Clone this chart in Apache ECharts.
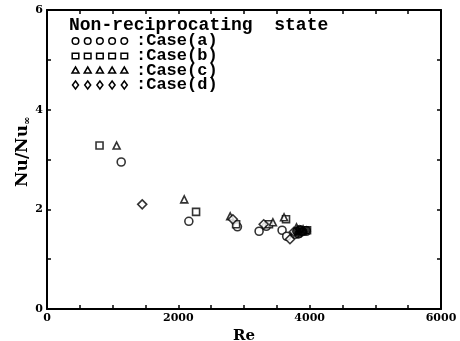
<!DOCTYPE html>
<html>
<head>
<meta charset="utf-8">
<script src="https://cdn.jsdelivr.net/npm/echarts@6/dist/echarts.min.js"></script>
<style>
  html, body { margin: 0; padding: 0; background: #fff; }
  #chart { width: 460px; height: 341px; }
</style>
</head>
<body>
<div id="chart"></div>
<script>
// Re, Nu/Nu_inf
var caseA = [[1130, 2.95], [2160, 1.76], [2900, 1.65], [3230, 1.56], [3340, 1.66], [3580, 1.58], [3650, 1.46], [3780, 1.5], [3950, 1.56]];
var caseB = [[800, 3.28], [2270, 1.95], [2880, 1.7], [3380, 1.7], [3640, 1.8], [3860, 1.58], [3960, 1.58]];
var caseC = [[1060, 3.28], [2090, 2.2], [2790, 1.86], [3440, 1.74], [3610, 1.84], [3800, 1.64], [3900, 1.6]];
var caseD = [[1450, 2.1], [2830, 1.8], [3300, 1.7], [3700, 1.4], [3760, 1.55], [3880, 1.55]];
// overlapping marks that print as a solid blob
var blob = [[3800, 1.56], [3850, 1.6], [3900, 1.55], [3950, 1.58], [3830, 1.5]];

var xTicks = [0, 2000, 4000, 6000];
var yTicks = [0, 2, 4, 6];
var caseNames = ['Case(a)', 'Case(b)', 'Case(c)', 'Case(d)'];
var caseSymbols = ['circle', 'rect', 'triangle', 'diamond'];

var font = 'DejaVu Serif';
var mono = 'Liberation Mono';
var chart = echarts.init(document.getElementById('chart'));

function hollow(name, symbol, data, size) {
  return {
    name: name, type: 'scatter', symbol: symbol, symbolSize: size, data: data,
    itemStyle: { color: '#fff', borderColor: '#000', borderWidth: 1.6 },
    xAxisIndex: 0, yAxisIndex: 0
  };
}

var axisLine = { show: true, onZero: false, lineStyle: { color: '#000', width: 2 } };
var tick = { inside: true, length: 4, lineStyle: { color: '#000', width: 1.5 } };

// legend-like key: five small symbols then the label
var keyGraphics = [];
var rowY = [41, 56, 70.5, 85];
caseNames.forEach(function (nm, r) {
  for (var k = 0; k < 5; k++) {
    var cx = 75.5 + k * 12.2, cy = rowY[r];
    var st = { fill: '#fff', stroke: '#000', lineWidth: 1.5 };
    if (caseSymbols[r] === 'circle') keyGraphics.push({ type: 'circle', shape: { cx: cx, cy: cy, r: 3.3 }, style: st });
    else if (caseSymbols[r] === 'rect') keyGraphics.push({ type: 'rect', shape: { x: cx - 3.3, y: cy - 2.8, width: 6.6, height: 5.6 }, style: st });
    else if (caseSymbols[r] === 'triangle') keyGraphics.push({ type: 'polygon', shape: { points: [[cx, cy - 3.5], [cx + 3.5, cy + 2.5], [cx - 3.5, cy + 2.5]] }, style: st });
    else keyGraphics.push({ type: 'polygon', shape: { points: [[cx, cy - 4], [cx + 3, cy], [cx, cy + 4], [cx - 3, cy]] }, style: st });
  }
  keyGraphics.push({
    type: 'text', x: 136, y: rowY[r],
    style: { text: ':' + nm, font: 'bold 17px "' + mono + '"', fill: '#000', verticalAlign: 'middle' }
  });
});

chart.setOption({
  animation: false,
  backgroundColor: '#fff',
  grid: { left: 47, right: 19, top: 10, bottom: 32, outerBoundsMode: 'none', containLabel: false },
  xAxis: [{
    type: 'value', min: 0, max: 6000, interval: 500, position: 'bottom',
    axisLine: axisLine, splitLine: { show: false }, axisTick: tick,
    name: 'Re', nameLocation: 'middle', nameGap: 15,
    nameTextStyle: { color: '#000', fontFamily: font, fontWeight: 'bold', fontSize: 15 },
    axisLabel: {
      margin: 4, color: '#000', fontFamily: font, fontWeight: 'bold', fontSize: 11,
      formatter: function (v) { return xTicks.indexOf(v) >= 0 ? String(v) : ''; }
    }
  }, {
    type: 'value', min: 0, max: 6000, interval: 500, position: 'top',
    axisLine: axisLine, splitLine: { show: false }, axisLabel: { show: false },
    axisTick: tick
  }],
  yAxis: [{
    type: 'value', min: 0, max: 6, interval: 1, position: 'left',
    axisLine: axisLine, splitLine: { show: false }, axisTick: tick,
    axisLabel: {
      margin: 4, color: '#000', fontFamily: font, fontWeight: 'bold', fontSize: 11,
      formatter: function (v) { return yTicks.indexOf(v) >= 0 ? String(v) : ''; }
    }
  }, {
    type: 'value', min: 0, max: 6, interval: 1, position: 'right',
    axisLine: axisLine, splitLine: { show: false }, axisLabel: { show: false },
    axisTick: tick
  }],
  series: [
    hollow(caseNames[0], 'circle', caseA, 8),
    hollow(caseNames[1], 'rect', caseB, 7),
    hollow(caseNames[2], 'triangle', caseC, 7),
    hollow(caseNames[3], 'diamond', caseD, 9),
    {
      name: 'overlap', type: 'scatter', symbol: 'circle', symbolSize: 8, data: blob,
      itemStyle: { color: '#000', borderColor: '#000', borderWidth: 1 }
    }
  ],
  graphic: [
    { type: 'text', x: 69, y: 25, style: { text: 'Non-reciprocating  state', font: 'bold 18px "' + mono + '"', fill: '#000', verticalAlign: 'middle' } },
    {
      type: 'text', x: 13, y: 187, rotation: Math.PI / 2,
      style: {
        text: 'Nu/Nu{s|∞}', font: 'bold 17px "' + font + '"', fill: '#000',
        rich: { s: { fontSize: 10, fontWeight: 'bold', fontFamily: font, padding: [9, 0, 0, 0] } }
      }
    }
  ].concat(keyGraphics)
});
</script>
</body>
</html>
